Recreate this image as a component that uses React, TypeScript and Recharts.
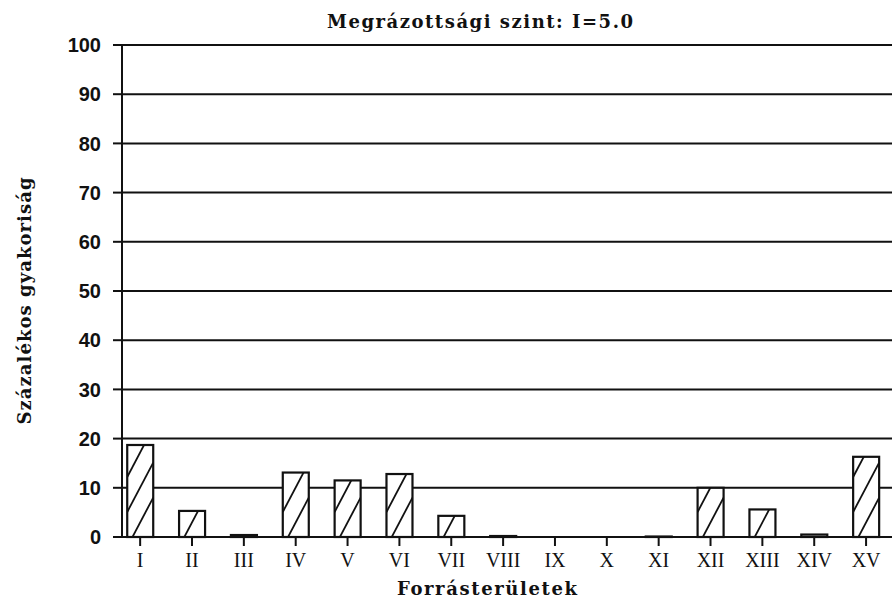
import React from 'react';
import { BarChart, Bar, XAxis, YAxis, CartesianGrid, Label } from 'recharts';

const CATEGORIES = ['I', 'II', 'III', 'IV', 'V', 'VI', 'VII', 'VIII', 'IX', 'X', 'XI', 'XII', 'XIII', 'XIV', 'XV'];
const FREQUENCIES = [18.7, 5.3, 0.4, 13.1, 11.5, 12.8, 4.3, 0.2, 0, 0, 0.1, 10.0, 5.6, 0.5, 16.3];
const Y_TICKS = [0, 10, 20, 30, 40, 50, 60, 70, 80, 90, 100];
const TITLE = 'Megrázottsági szint: I=5.0';
const X_TITLE = 'Forrásterületek';
const Y_TITLE = 'Százalékos gyakoriság';

const data = CATEGORIES.map((name, i) => ({ pos: i, name, value: FREQUENCIES[i] }));

const typeFont = '"DejaVu Serif", serif';

// bar outline with "/" hatching clipped to the bar
const HatchedBar = (props: any) => {
  const { x, y, width, height, index } = props;
  if (x == null || y == null || !width) return null;
  const h = Math.max(height, 0);
  const bottom = y + h;
  const rise = width * 1.9;
  const step = 35;
  const lines = [];
  for (let k = 0; bottom + 10 - k * step - rise > y - step; k++) {
    const y0 = bottom + 10 - k * step;
    lines.push(<line key={k} x1={x} y1={y0} x2={x + width} y2={y0 - rise} stroke="#111" strokeWidth={1.8} />);
  }
  const id = `hatch-clip-${index}`;
  return (
    <g>
      <clipPath id={id}>
        <rect x={x} y={y} width={width} height={h} />
      </clipPath>
      <rect x={x} y={y} width={width} height={h} fill="#fff" />
      {h > 2 && <g clipPath={`url(#${id})`}>{lines}</g>}
      <rect x={x} y={y} width={width} height={h} fill="none" stroke="#111" strokeWidth={2.2} />
    </g>
  );
};

const App: React.FC = () => {
  return (
    <div style={{ position: 'absolute', left: 0, top: 0, width: 895, height: 600, background: '#fff' }}>
      <BarChart width={895} height={600} data={data} margin={{ top: 45, right: 3, bottom: 0, left: 0 }}>
        <CartesianGrid vertical={false} stroke="#111" strokeWidth={2} />
        <XAxis
          dataKey="pos"
          type="number"
          domain={[-0.35, 14.5]}
          ticks={data.map(d => d.pos)}
          tickFormatter={(v: number) => CATEGORIES[v]}
          interval={0}
          height={63}
          stroke="#111"
          strokeWidth={2}
          tickSize={9}
          tickMargin={7}
          tick={{ fill: '#111', fontFamily: '"Liberation Serif", serif', fontSize: 20 }}
        >
          <Label
            content={(p: any) => {
              const vb = p.viewBox;
              return (
                <text x={vb.x + vb.width / 2 - 20} y={vb.y + 58} textAnchor="middle" textLength={180} lengthAdjust="spacing"
                  fontFamily={typeFont} fontWeight="bold" fontSize={18} fill="#111">
                  {X_TITLE}
                </text>
              );
            }}
          />
        </XAxis>
        <YAxis
          domain={[0, 100]}
          ticks={Y_TICKS}
          interval={0}
          width={122}
          stroke="#111"
          strokeWidth={2}
          tickSize={9}
          tickMargin={12}
          tick={{ fill: '#111', fontFamily: '"Liberation Sans", Arial, sans-serif', fontWeight: 'bold', fontSize: 20 }}
        >
          <Label
            content={(p: any) => {
              const vb = p.viewBox;
              const cx = vb.x + 31;
              const cy = vb.y + vb.height / 2 + 10;
              return (
                <text x={cx} y={cy} textAnchor="middle" textLength={247} lengthAdjust="spacing" transform={`rotate(-90 ${cx} ${cy})`}
                  fontFamily={typeFont} fontWeight="bold" fontSize={18} fill="#111">
                  {Y_TITLE}
                </text>
              );
            }}
          />
        </YAxis>
        <YAxis yAxisId="frame" orientation="right" width={0} domain={[0, 100]} tick={false} tickLine={false} stroke="#111" strokeWidth={2} />
        <Bar dataKey="value" barSize={26} shape={HatchedBar} isAnimationActive={false} />
      </BarChart>
      <svg width={895} height={600} style={{ position: 'absolute', left: 0, top: 0, pointerEvents: 'none' }}>
        <text x={480} y={28} textAnchor="middle" textLength={306} lengthAdjust="spacing"
          fontFamily={typeFont} fontWeight="bold" fontSize={18} fill="#111">
          {TITLE}
        </text>
      </svg>
    </div>
  );
};

export default App;
